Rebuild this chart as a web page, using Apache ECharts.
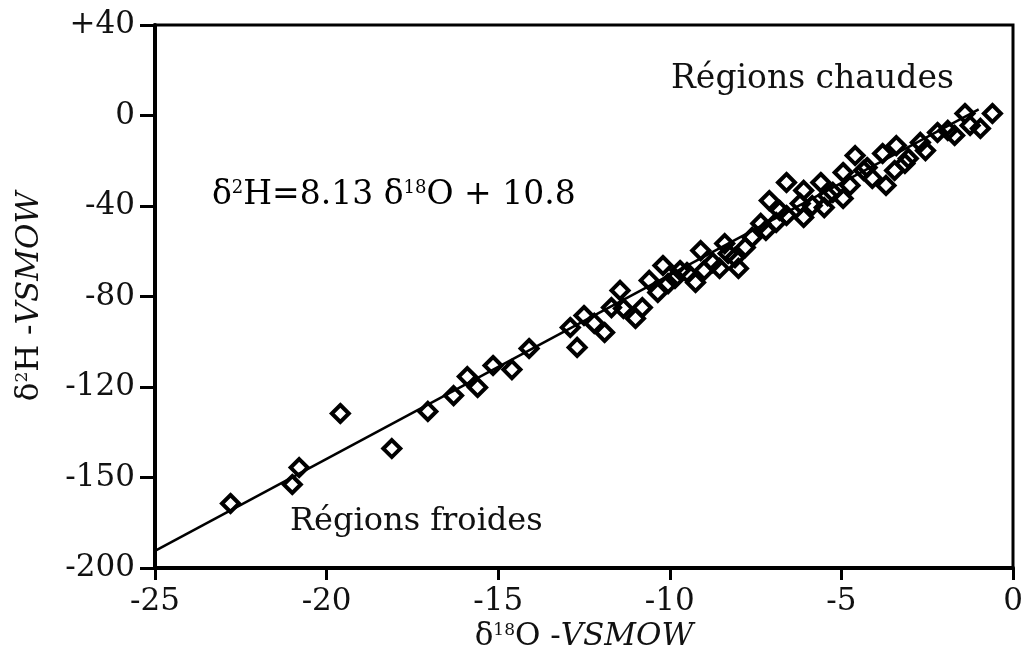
<!DOCTYPE html>
<html>
<head>
<meta charset="utf-8">
<script src="https://cdn.jsdelivr.net/npm/echarts@6/dist/echarts.min.js"></script>
<style>
  html, body { margin: 0; padding: 0; background: #fff; }
  #chart { width: 1022px; height: 657px; }
</style>
</head>
<body>
<div id="chart"></div>
<script>
// δ18O values (‰ VSMOW) of the samples
const pointsX = [
  -22.8, -21.0, -20.8, -19.6, -18.1, -17.05, -16.3, -15.9, -15.6, -15.15,
  -14.6, -14.1, -12.9, -12.7, -12.5, -12.2, -11.9, -11.7, -11.45, -11.35,
  -11.0, -10.8, -10.6, -10.35, -10.2, -9.85, -9.5, -9.25, -9.1, -9.0,
  -8.75, -8.55, -8.4, -8.1, -8.0, -8.3, -7.6, -7.35, -7.1, -6.6,
  -6.6, -6.1, -6.1, -6.2, -5.6, -5.5, -5.4, -4.95, -4.95, -4.6,
  -4.25, -4.35, -3.8, -3.7, -3.4, -3.05, -2.7, -2.2, -1.9, -1.4,
  -0.95, -0.6, -7.8, -7.2, -6.9, -6.8, -5.85, -5.25, -4.75, -4.1,
  -3.45, -3.15, -2.55, -1.7, -1.25, -10.05, -9.7
];
// δ2H values (‰ VSMOW) of the samples
const pointsY = [
  -171.5, -163.1, -155.6, -131.7, -147.2, -130.8, -123.8, -115.4, -120.2, -110.5,
  -112.3, -103.0, -93.7, -102.5, -88.4, -91.9, -95.9, -84.9, -77.3, -85.3,
  -89.7, -84.9, -72.9, -78.2, -66.3, -72.0, -69.4, -73.8, -59.7, -68.5,
  -65.0, -67.6, -56.6, -62.8, -67.6, -61.0, -53.9, -47.7, -37.6, -29.6,
  -44.2, -33.1, -45.1, -38.9, -29.6, -40.7, -35.4, -25.2, -36.7, -17.7,
  -23.0, -24.3, -16.8, -30.9, -13.3, -19.0, -11.9, -7.5, -6.6, 0.9,
  -5.7, 0.9, -58.3, -50.8, -47.3, -42.0, -39.8, -34.0, -30.9, -27.8,
  -24.3, -21.2, -15.5, -8.8, -4.4, -74.3, -68.5
];
// regression line end points (δ2H = 8.13 δ18O + 10.8)
const lineX = [-25, -1];
const lineY = [-192.45, 2.67];

// axis tick labels as printed on the original figure
const xTickValues = [-25, -20, -15, -10, -5, 0];
const xTickLabels = ['-25', '-20', '-15', '-10', '-5', '0'];
const yTickValues = [-200, -160, -120, -80, -40, 0, 40];
const yTickLabels = ['-200', '-150', '-120', '-80', '-40', '0', '+40'];

const FONT = 'DejaVu Serif';
const chart = echarts.init(document.getElementById('chart'), null, { renderer: 'canvas' });

const scatterData = pointsX.map((x, i) => [x, pointsY[i]]);
const lineData = lineX.map((x, i) => [x, lineY[i]]);

const rich = (size, sup) => ({
  d: { fontFamily: FONT, fontSize: size, color: '#111' },
  s: { fontFamily: FONT, fontSize: sup, color: '#111', verticalAlign: 'top' },
  i: { fontFamily: FONT, fontSize: size, color: '#111', fontStyle: 'italic' }
});

chart.setOption({
  backgroundColor: '#fff',
  animation: false,
  grid: {
    left: 155, right: 9, top: 25, bottom: 89,
    outerBoundsMode: 'none', containLabel: false,
    show: true, borderColor: '#000', borderWidth: 3, backgroundColor: 'transparent'
  },
  xAxis: {
    type: 'value', min: -25, max: 0, interval: 5,
    splitLine: { show: false },
    axisLine: { show: true, onZero: false, lineStyle: { color: '#000', width: 4 } },
    axisTick: { show: true, inside: false, length: 12, lineStyle: { color: '#000', width: 3 } },
    axisLabel: {
      margin: 18, fontFamily: FONT, fontSize: 31, color: '#111',
      formatter: v => { const k = xTickValues.indexOf(v); return k >= 0 ? xTickLabels[k] : ''; }
    },
    name: '{d|δ}{s|18}{d|O -}{i|VSMOW}',
    nameLocation: 'middle', nameGap: 52,
    nameTextStyle: { rich: rich(31, 17) }
  },
  yAxis: {
    type: 'value', min: -200, max: 40, interval: 40,
    splitLine: { show: false },
    axisLine: { show: true, onZero: false, lineStyle: { color: '#000', width: 4 } },
    axisTick: { show: true, inside: false, length: 15, lineStyle: { color: '#000', width: 3 } },
    axisLabel: {
      margin: 20, fontFamily: FONT, fontSize: 31, color: '#111',
      formatter: v => { const k = yTickValues.indexOf(v); return k >= 0 ? yTickLabels[k] : ''; }
    },
    name: '{d|δ}{s|2}{d|H -}{i|VSMOW}',
    nameLocation: 'middle', nameGap: 110, nameRotate: 90,
    nameTextStyle: { rich: rich(31, 17) }
  },
  graphic: [
    {
      type: 'text', left: 212, top: 179, z: 10,
      style: {
        text: '{d|δ}{s|2}{d|H=8.13 δ}{s|18}{d|O + 10.8}',
        rich: rich(33, 18)
      }
    },
    {
      type: 'text', left: 671, top: 63, z: 10,
      style: { text: 'Régions chaudes', fontFamily: FONT, fontSize: 33, fill: '#111' }
    },
    {
      type: 'text', left: 290, top: 506, z: 10,
      style: { text: 'Régions froides', fontFamily: FONT, fontSize: 32, fill: '#111' }
    }
  ],
  series: [
    {
      type: 'line', data: lineData, symbol: 'none', z: 2,
      lineStyle: { color: '#000', width: 2.5 }
    },
    {
      type: 'scatter', data: scatterData, z: 3,
      symbol: 'diamond', symbolSize: 17,
      itemStyle: { color: 'rgba(255,255,255,0)', borderColor: '#000', borderWidth: 4, opacity: 1 }
    }
  ]
});
</script>
</body>
</html>
